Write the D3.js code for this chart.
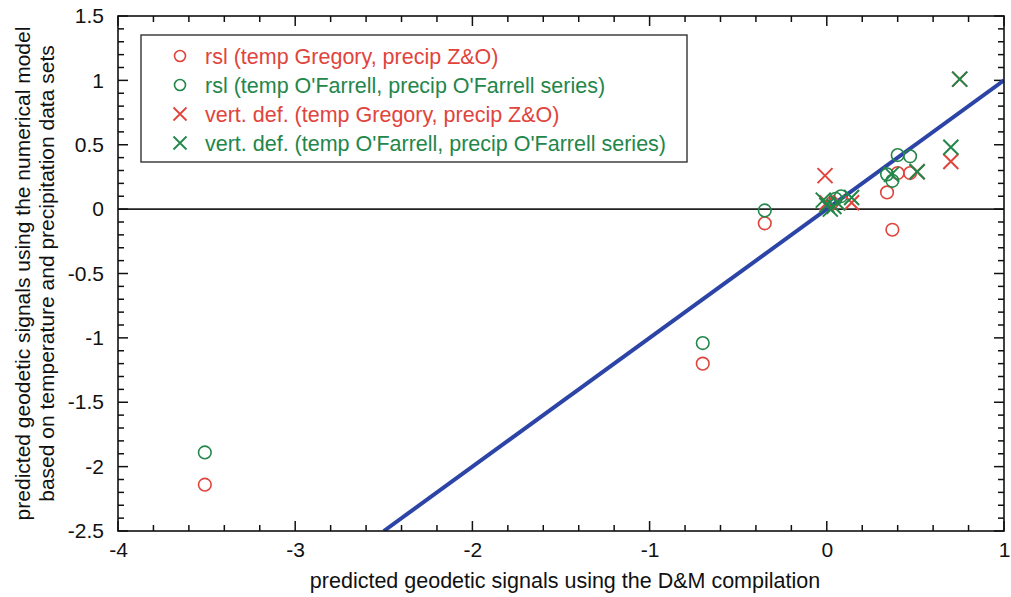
<!DOCTYPE html>
<html><head><meta charset="utf-8">
<script src="https://cdn.jsdelivr.net/npm/d3@7"></script>
<style>body{margin:0;background:#fff}svg{display:block}text{font-family:"Liberation Sans",Arial,sans-serif}</style>
</head><body>
<script>
const rslGregory = [[-3.51,-2.14],[-0.70,-1.20],[-0.35,-0.11],[0.03,0.05],[0.34,0.13],[0.37,-0.16],[0.40,0.28],[0.47,0.28]];
const rslOFarrell = [[-3.51,-1.89],[-0.70,-1.04],[-0.35,-0.01],[0.05,0.08],[0.08,0.10],[0.34,0.27],[0.37,0.22],[0.40,0.42],[0.47,0.41]];
const vertGregory = [[-0.01,0.26],[0.00,0.05],[0.14,0.05],[0.51,0.29],[0.70,0.37],[0.75,1.01]];
const vertOFarrell = [[-0.02,0.07],[0.00,0.03],[0.02,0.00],[0.04,0.02],[0.06,0.05],[0.14,0.09],[0.365,0.27],[0.51,0.29],[0.70,0.48],[0.75,1.01]];
const oneToOne = [[-2.5,-2.5],[1,1]];
const xTicks = [-4,-3,-2,-1,0,1];
const yTicks = [1.5,1,0.5,0,-0.5,-1,-1.5,-2,-2.5];
const legendLabels = ["rsl (temp Gregory, precip Z&O)","rsl (temp O'Farrell, precip O'Farrell series)","vert. def. (temp Gregory, precip Z&O)","vert. def. (temp O'Farrell, precip O'Farrell series)"];

const W=1011,H=597;
const L=118,R=1004,T=16,B=531;
const RED="#e0443c",GREEN="#23864a",BLUE="#2c44a6";
const x=d3.scaleLinear().domain([-4,1]).range([L,R]);
const y=d3.scaleLinear().domain([-2.5,1.5]).range([B,T]);
const svg=d3.select("body").append("svg").attr("width",W).attr("height",H);

svg.append("clipPath").attr("id","c").append("rect").attr("x",L).attr("y",T).attr("width",R-L).attr("height",B-T);

// zero line
svg.append("line").attr("x1",L).attr("x2",R).attr("y1",y(0)).attr("y2",y(0)).attr("stroke","#222").attr("stroke-width",1.6);

const xMinor=d3.range(-4,1.0001,0.2), yMinor=d3.range(-2.5,1.5001,0.1);
svg.append("g").attr("transform",`translate(0,${B})`).call(d3.axisBottom(x).tickValues(xTicks).tickSize(0).tickPadding(11).tickFormat(d=>String(d)))
  .call(g=>{g.select(".domain").remove();g.selectAll("text").attr("font-size",21).attr("fill","#111");});
svg.append("g").attr("transform",`translate(${L},0)`).call(d3.axisLeft(y).tickValues(yTicks).tickSize(0).tickPadding(14).tickFormat(d=>String(d)))
  .call(g=>{g.select(".domain").remove();g.selectAll("text").attr("font-size",21).attr("fill","#111");});

const tk=svg.append("g").attr("stroke","#111").attr("stroke-width",1.5);
xMinor.forEach((v,i)=>{const major=i%5===0;const len=major?10:6;
  tk.append("line").attr("x1",x(v)).attr("x2",x(v)).attr("y1",B).attr("y2",B-len);
  tk.append("line").attr("x1",x(v)).attr("x2",x(v)).attr("y1",T).attr("y2",T+len);});
yMinor.forEach((v,i)=>{const major=i%5===0;const len=major?10:6;
  tk.append("line").attr("y1",y(v)).attr("y2",y(v)).attr("x1",L).attr("x2",L+len);
  tk.append("line").attr("y1",y(v)).attr("y2",y(v)).attr("x1",R).attr("x2",R-len);});

// 1:1 line
svg.append("path").datum(oneToOne).attr("clip-path","url(#c)")
  .attr("d",d3.line().x(d=>x(d[0])).y(d=>y(d[1]))).attr("stroke",BLUE).attr("stroke-width",4).attr("fill","none");

const rC=6.3, sX=7.5;
function circles(data,col){svg.append("g").selectAll("circle").data(data).join("circle")
  .attr("cx",d=>x(d[0])).attr("cy",d=>y(d[1])).attr("r",rC).attr("fill","none").attr("stroke",col).attr("stroke-width",1.6);}
function crosses(data,col){svg.append("g").selectAll("path").data(data).join("path")
  .attr("d",d=>{const px=x(d[0]),py=y(d[1]);return `M${px-sX},${py-sX}L${px+sX},${py+sX}M${px-sX},${py+sX}L${px+sX},${py-sX}`;})
  .attr("stroke",col).attr("stroke-width",2).attr("fill","none");}
circles(rslGregory,RED);circles(rslOFarrell,GREEN);crosses(vertGregory,RED);crosses(vertOFarrell,GREEN);

// frame
svg.append("rect").attr("x",L).attr("y",T).attr("width",R-L).attr("height",B-T).attr("fill","none").attr("stroke","#111").attr("stroke-width",1.6);

// legend
const lg=svg.append("g");
lg.append("rect").attr("x",141).attr("y",35).attr("width",546).attr("height",127).attr("fill","#fff").attr("stroke","#333").attr("stroke-width",1.4);
const cols=[RED,GREEN,RED,GREEN];
legendLabels.forEach((t,i)=>{const cy=56+i*29,cx=180;
  if(i<2) lg.append("circle").attr("cx",cx).attr("cy",cy).attr("r",5.5).attr("fill","none").attr("stroke",cols[i]).attr("stroke-width",1.6);
  else lg.append("path").attr("d",`M${cx-6.5},${cy-6.5}L${cx+6.5},${cy+6.5}M${cx-6.5},${cy+6.5}L${cx+6.5},${cy-6.5}`).attr("stroke",cols[i]).attr("stroke-width",1.8);
  lg.append("text").attr("x",205).attr("y",cy).attr("dy","0.35em").attr("font-size",21.5).attr("fill",cols[i]).text(t);});

// axis titles
svg.append("text").attr("x",(L+R)/2+4).attr("y",588).attr("text-anchor","middle").attr("font-size",21.5).attr("fill","#111").text("predicted geodetic signals using the D&M compilation");
const yt=svg.append("text").attr("transform",`translate(0,${(T+B)/2}) rotate(-90)`).attr("text-anchor","middle").attr("font-size",21).attr("fill","#111");
yt.append("tspan").attr("x",0).attr("y",30).text("predicted geodetic signals using the numerical model");
yt.append("tspan").attr("x",0).attr("y",54).text("based on temperature and precipitation data sets");
</script>
</body></html>
